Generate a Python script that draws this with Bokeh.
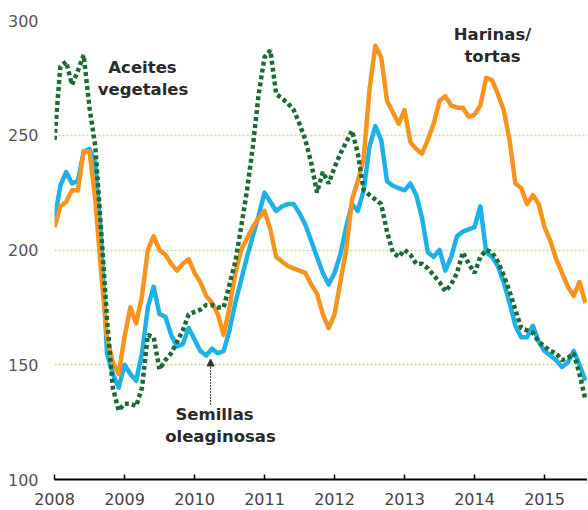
from bokeh.plotting import figure
from bokeh.models import Label, Arrow, NormalHead, FixedTicker, ColumnDataSource
from bokeh.core.properties import value
from bokeh.embed import file_html
from bokeh.resources import INLINE

# Monthly index values, Jan 2008 .. Aug 2015
start_year = 2008
aceites = [248, 280, 282, 272, 278, 285, 262, 245, 208, 170, 140, 130,
           133, 133, 132, 140, 163, 162, 148, 152, 155, 160, 165, 172,
           173, 174, 176, 176, 175, 175, 185, 195, 210, 226, 245, 268,
           284, 287, 268, 266, 264, 261, 255, 248, 238, 225, 234, 229,
           236, 242, 247, 252, 242, 226, 224, 222, 220, 208, 199, 197,
           200, 198, 194, 194, 192, 189, 186, 182, 185, 190, 199, 194,
           190, 197, 200, 199, 195, 189, 182, 174, 166, 165, 164, 160,
           158, 156, 155, 152, 153, 155, 146, 135]
harinas = [210, 219, 221, 226, 226, 243, 243, 222, 190, 162, 151, 146,
           162, 175, 168, 180, 200, 206, 200, 198, 194, 191, 194, 196,
           190, 186, 180, 177, 172, 163, 175, 190, 200, 205, 210, 214,
           217, 209, 197, 195, 193, 192, 191, 190, 185, 181, 172, 166,
           172, 186, 200, 222, 230, 240, 270, 289, 284, 265, 260, 255,
           261, 247, 244, 242, 248, 255, 265, 267, 263, 262, 262, 258,
           259, 263, 275, 274, 268, 261, 248, 229, 227, 220, 224, 220,
           210, 204, 196, 190, 184, 180, 186, 177]
semillas = [213, 228, 234, 229, 230, 243, 244, 238, 205, 155, 146, 140,
            150, 146, 143, 155, 175, 184, 172, 171, 163, 158, 159, 166,
            161, 156, 154, 157, 155, 156, 165, 177, 187, 197, 206, 215,
            225, 221, 217, 219, 220, 220, 216, 211, 204, 197, 190, 185,
            190, 198, 210, 220, 217, 226, 245, 254, 248, 230, 228, 227,
            226, 229, 224, 214, 199, 197, 200, 191, 197, 206, 208, 209,
            210, 219, 199, 197, 193, 186, 177, 167, 162, 162, 167, 160,
            156, 154, 152, 149, 151, 156, 150, 143]
year_ticks = [2008, 2009, 2010, 2011, 2012, 2013, 2014, 2015]
y_ticks = [100, 150, 200, 250, 300]

t = [start_year + i / 12 for i in range(len(aceites))]
src = ColumnDataSource(dict(t=t, aceites=aceites, harinas=harinas, semillas=semillas))

p = figure(width=587, height=508, output_backend="svg", toolbar_location=None,
           x_range=(2008.0, 2015.614), y_range=(100, 300),
           min_border_left=54, min_border_right=0, min_border_top=20, min_border_bottom=29)
p.outline_line_color = None
p.background_fill_color = "white"

blue = "#1db1e7"
orange = "#f7941d"
green = "#1c6b36"

p.line("t", "semillas", source=src, line_color=blue, line_width=4.5, line_join="round")
p.line("t", "harinas", source=src, line_color=orange, line_width=4.5, line_join="round")
p.line("t", "aceites", source=src, line_color=green, line_width=4.5, line_dash="4 3")

# axes
p.xaxis.ticker = FixedTicker(ticks=year_ticks)
p.xaxis.major_label_overrides = {y: str(y) for y in year_ticks}
p.xaxis.axis_line_color = "black"
p.xaxis.axis_line_width = 2
p.xaxis.major_tick_in = 5
p.xaxis.major_tick_out = 0
p.xaxis.major_tick_line_color = "black"
p.xaxis.major_tick_line_width = 1.5
p.xaxis.minor_tick_line_color = None
p.xaxis.major_label_text_font = "DejaVu Sans"
p.xaxis.major_label_text_font_size = "16px"
p.xaxis.major_label_text_color = "#444444"
p.xaxis.major_label_standoff = 13

p.yaxis.ticker = FixedTicker(ticks=y_ticks)
p.yaxis.axis_line_color = None
p.yaxis.major_tick_line_color = None
p.yaxis.minor_tick_line_color = None
p.yaxis.major_label_text_font = "DejaVu Sans"
p.yaxis.major_label_text_font_size = "16px"
p.yaxis.major_label_text_color = "#555555"
p.yaxis.major_label_standoff = 10

p.xgrid.grid_line_color = None
p.ygrid.ticker = FixedTicker(ticks=[150, 200, 250, 300])
p.ygrid.grid_line_color = "#c3d98a"
p.ygrid.grid_line_dash = "2 2"
p.ygrid.grid_line_width = 1.5

font = "DejaVu Sans"
def lab(x, y, txt):
    p.add_layout(Label(x=x, y=y, text=txt, text_font=font, text_font_size="16.5px",
                       text_font_style="bold", text_color="#2a2a2a",
                       text_align="center", text_baseline="middle"))

lab(2009.257, 279.4, "Aceites")
lab(2009.265, 269.8, "vegetales")
lab(2014.257, 293.9, "Harinas/")
lab(2014.257, 284.2, "tortas")
lab(2010.286, 128.5, "Semillas")
lab(2010.371, 118.8, "oleaginosas")

p.add_layout(Arrow(end=NormalHead(size=7, fill_color="#333333", line_color="#333333"),
                   x_start=2010.23, y_start=132.5, x_end=2010.23, y_end=152.5,
                   line_color="#333333", line_width=1, line_dash="2 1"))

open("out.html", "w").write(file_html(p, INLINE))
